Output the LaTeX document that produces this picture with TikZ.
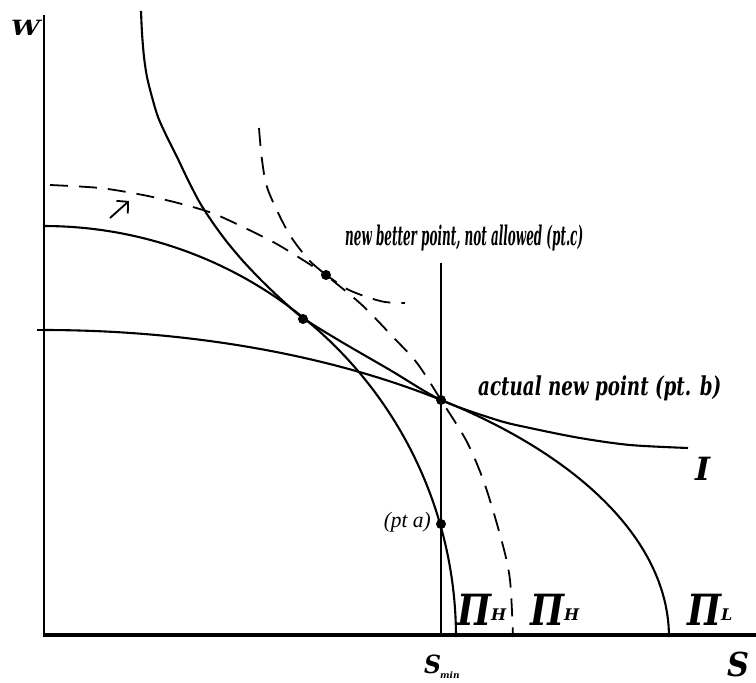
\documentclass[tikz,border=0pt]{standalone}
\usepackage{fontspec}
\setmainfont{Liberation Serif}
\newfontface\heavy{DejaVu Serif Bold Italic}
\newfontface\heavyit{Liberation Serif Italic}
\usepackage{graphicx}
\usetikzlibrary{arrows.meta}
\newcommand{\hfitbox}[2]{\resizebox{#1}{\height}{#2}}
\begin{document}
\begin{tikzpicture}[x=1pt,y=-1pt,
  curve/.style={line width=2.1pt},
  dcurve/.style={line width=1.8pt, dash pattern=on 18pt off 11pt},
  dot/.style={circle,fill=black,inner sep=0pt,minimum size=10pt},
  lbl/.style={inner sep=0pt},
]
\useasboundingbox (0,0) rectangle (756,683);
% axes
\coordinate (Ytop) at (44,15);
\coordinate (O) at (44,635);
\coordinate (Xend) at (756,635);
\draw[line width=2.6pt] (Ytop) -- (O);
\draw[line width=3.8pt] (42.7,635) -- (Xend);
\coordinate (tk) at (37,330);
\coordinate (tkO) at (44,330);
\draw[line width=1.3pt] (tk) -- (tkO);
% Pi_L frontier
\draw[curve] plot[domain=0:90,samples=90] ({44+625*cos(\x)},{637-307*sin(\x)});
% Pi_H frontier
\draw[curve] plot[domain=0:90,samples=90] ({44+412*cos(\x)},{637-411*sin(\x)});
% indifference curve I
\draw[curve] plot[smooth,tension=0.5] coordinates {(141,11) (142,33) (144,57) (147,77) (152,97) (158,117) (167,137) (177,157) (188,180) (200,203) (213,223) (227,242) (243,261) (262,281) (283,301) (303,318) (340,341) (390,370) (441,400) (497,420) (530,428) (580,438) (630,445) (688,448)};
% dashed frontier
\draw[dcurve] plot[smooth] coordinates {(259,128) (262,160) (268,190) (288,232) (308,259) (326,275) (362,305) (393,337) (417,363) (441,400) (467,442) (485,485) (502,542) (510,580) (513,637)};
% dashed indifference curve
\draw[dcurve] plot[smooth] coordinates {(50,185) (100,188) (143,195) (178,203) (212,213) (243,227) (275,243) (303,260) (326,275) (347,289) (367,297) (385,302) (405,303)};
% vertical constraint
\coordinate (vt) at (441,263);
\coordinate (vb) at (441,635);
\draw[line width=2pt] (vt) -- (vb);
% arrow
\coordinate (arrS) at (110,218);
\coordinate (arrE) at (129,201);
\draw[line width=1.8pt, -{Straight Barb[length=8pt,width=17pt]}] (arrS) -- (arrE);
% dots
\node[dot] (ptI) at (303,319) {};
\node[dot] (ptc) at (326,275) {};
\node[dot] (ptb) at (441,400) {};
\node[dot] (pta) at (441,524) {};
% labels
\node[lbl, anchor=base west, font=\fontsize{27}{27}\heavy] (lc) at (345,245) {\hfitbox{238pt}{new better point, not allowed (pt.c)}};
\node[lbl, anchor=base west, font=\fontsize{26}{26}\heavy] (lb) at (478,395) {\hfitbox{243pt}{actual new point (pt. b)}};
\node[lbl, anchor=base east, font=\fontsize{22}{22}\heavyit] (la) at (431,527) {\hfitbox{47pt}{(pt a)}};
\node[lbl, anchor=base west, font=\fontsize{32}{32}\heavy] (lI) at (695,480) {I};
\node[lbl, anchor=base west, font=\fontsize{43}{43}\heavy] (lH1) at (457,625) {\hfitbox{34pt}{Π}\raisebox{5pt}{\fontsize{16}{16}\heavy H}};
\node[lbl, anchor=base west, font=\fontsize{43}{43}\heavy] (lH2) at (530,625) {\hfitbox{34pt}{Π}\raisebox{5pt}{\fontsize{16}{16}\heavy H}};
\node[lbl, anchor=base west, font=\fontsize{43}{43}\heavy] (lL) at (687,625) {\hfitbox{34pt}{Π}\raisebox{5pt}{\fontsize{16}{16}\heavy L}};
\node[lbl, anchor=base west, font=\fontsize{21}{21}\heavy] (lW) at (11,35) {\hfitbox{29pt}{W}};
\node[lbl, anchor=base west, font=\fontsize{33}{33}\heavy] (lS) at (727,676) {\hfitbox{22pt}{S}};
\node[lbl, anchor=base west, font=\fontsize{25}{25}\heavy] (lSmin) at (424,673) {\hfitbox{17pt}{S}\kern-1pt\raisebox{-5pt}{\fontsize{9}{9}\heavy min}};
\end{tikzpicture}
\end{document}
